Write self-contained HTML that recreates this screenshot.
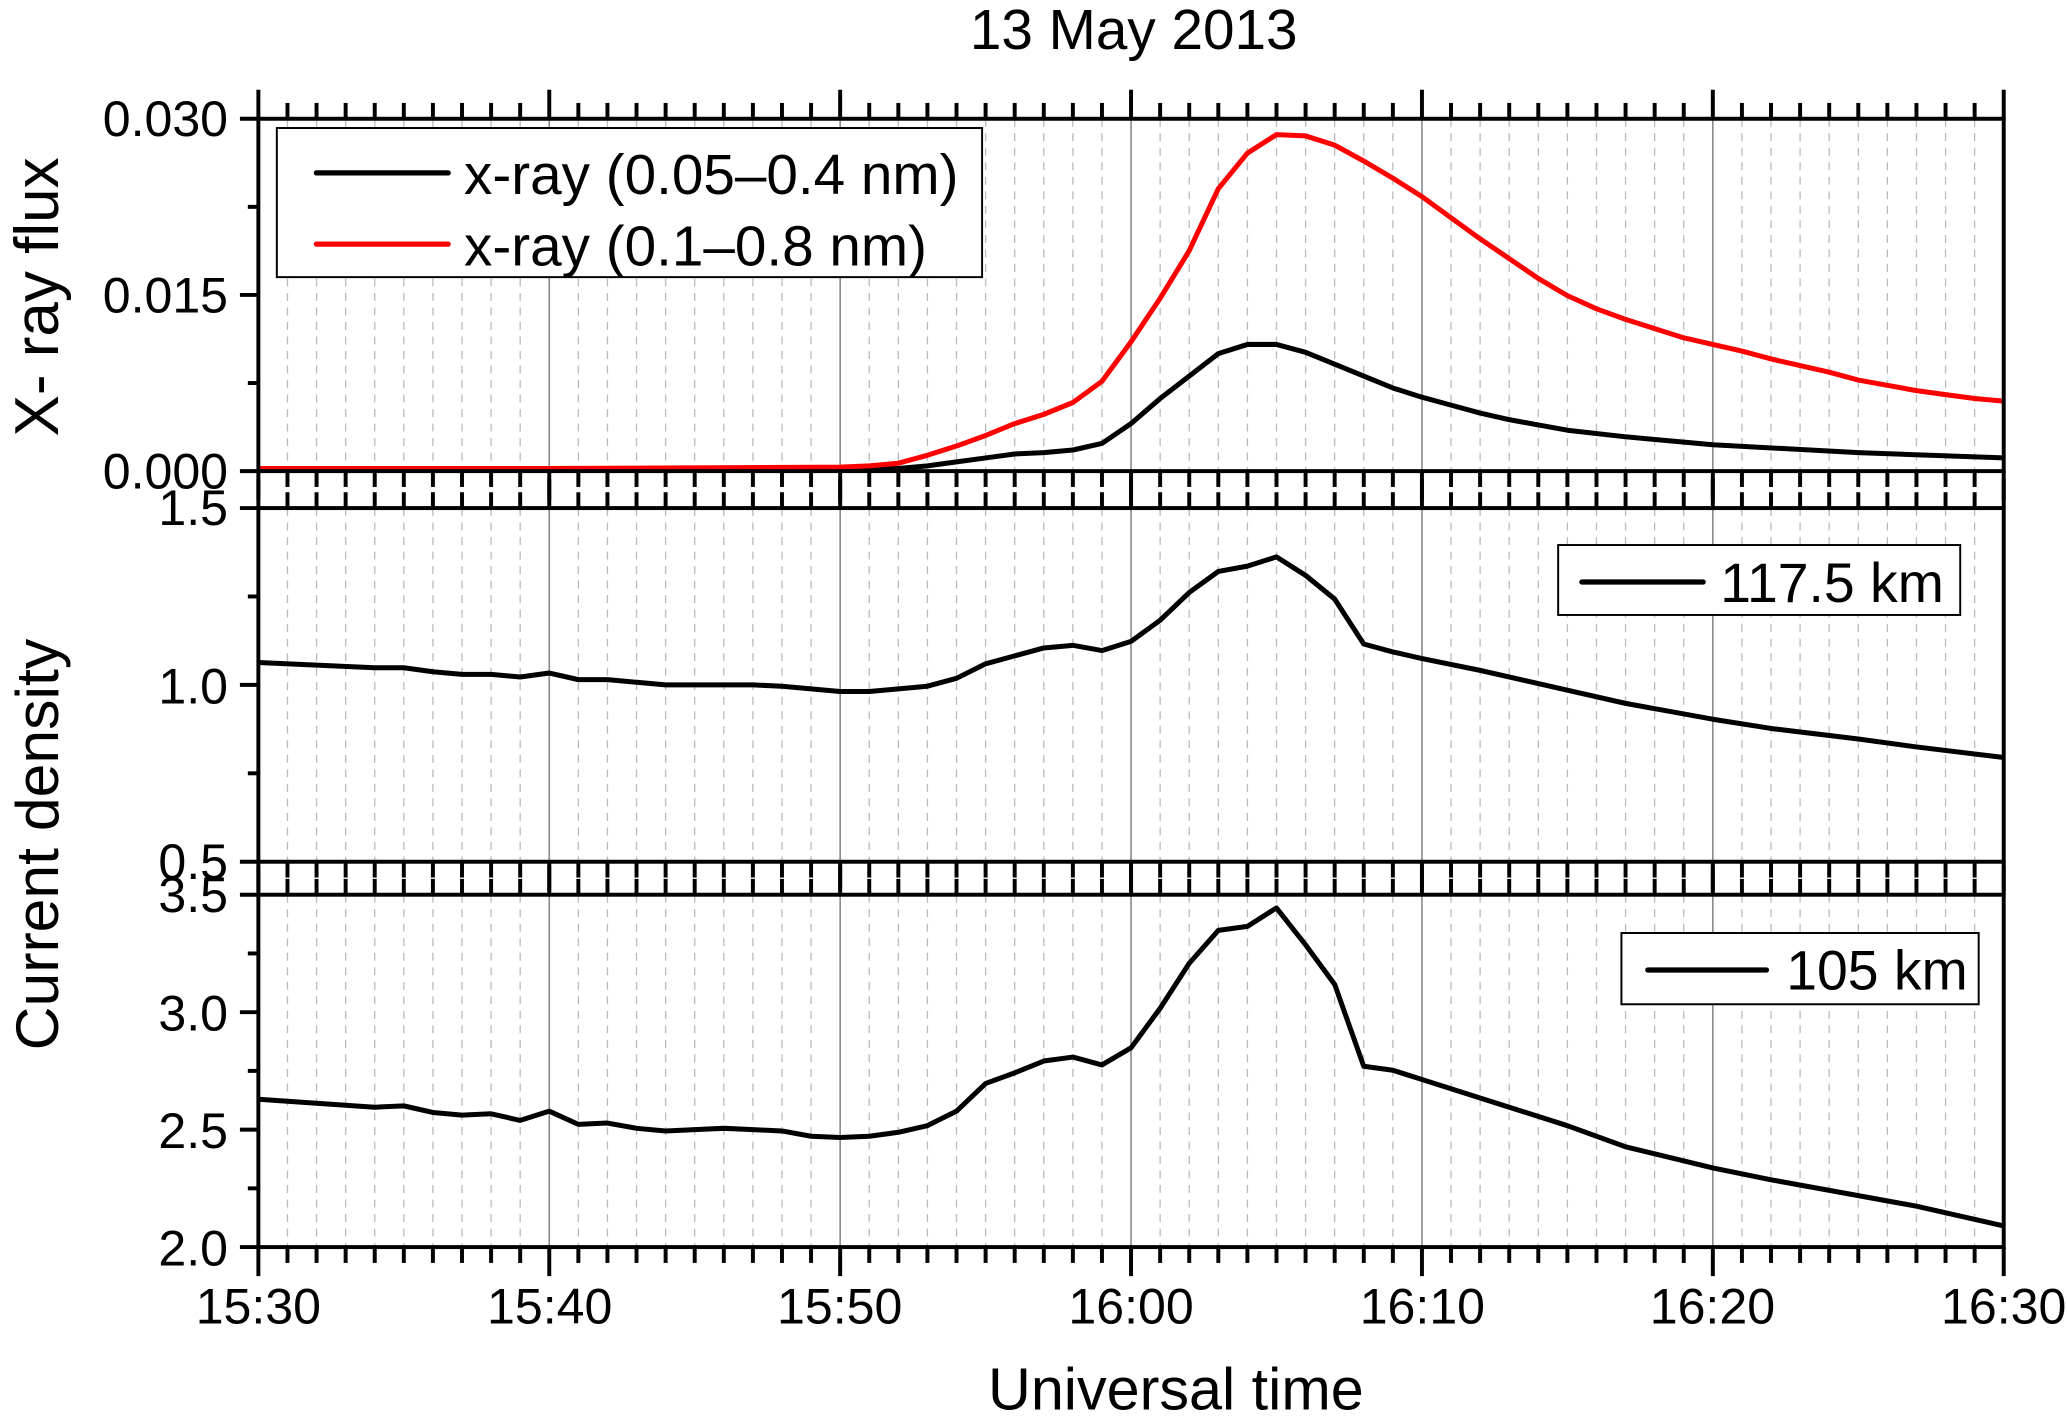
<!DOCTYPE html>
<html><head><meta charset="utf-8"><style>
html,body{margin:0;padding:0;background:#fff;}
svg{display:block;}
text{font-family:"Liberation Sans",Arial,sans-serif;fill:#000;}
</style></head><body>
<svg id="s" width="2067" height="1416" viewBox="0 0 1568 1073" preserveAspectRatio="none" xmlns="http://www.w3.org/2000/svg">
<g id="grid"></g>
<g id="data"></g>
<g id="axes"></g>
<text x="860" y="37" font-size="43" text-anchor="middle">13 May 2013</text>
<text x="892" y="1068" font-size="45" text-anchor="middle">Universal time</text>
<text transform="translate(44,225) rotate(-90)" font-size="47" text-anchor="middle">X- ray flux</text>
<text transform="translate(44,640) rotate(-90)" font-size="46" text-anchor="middle">Current density</text>
<g font-size="38" text-anchor="end">
<text x="173" y="103">0.030</text><text x="173" y="237">0.015</text><text x="173" y="370">0.000</text>
<text x="173" y="398">1.5</text><text x="173" y="533">1.0</text><text x="173" y="666">0.5</text>
<text x="173" y="691">3.5</text><text x="173" y="781">3.0</text><text x="173" y="870">2.5</text><text x="173" y="959">2.0</text>
</g>
<g font-size="38" text-anchor="middle">
<text x="196" y="1003">15:30</text><text x="417" y="1003">15:40</text><text x="637" y="1003">15:50</text>
<text x="858" y="1003">16:00</text><text x="1079" y="1003">16:10</text><text x="1299" y="1003">16:20</text><text x="1520" y="1003">16:30</text>
</g>
<g id="leg">
<rect x="210" y="97" width="535" height="113" fill="#fff" stroke="#000" stroke-width="1.5"/>
<line x1="240" y1="131" x2="340" y2="131" stroke="#000" stroke-width="4" stroke-linecap="round"/>
<line x1="240" y1="185" x2="340" y2="185" stroke="#f00" stroke-width="4" stroke-linecap="round"/>
<text x="352" y="147" font-size="43">x-ray (0.05–0.4 nm)</text>
<text x="352" y="201" font-size="43">x-ray (0.1–0.8 nm)</text>
<rect x="1182" y="413" width="305" height="53" fill="#fff" stroke="#000" stroke-width="1.5"/>
<line x1="1200" y1="441" x2="1292" y2="441" stroke="#000" stroke-width="4" stroke-linecap="round"/>
<text x="1305" y="456" font-size="42">117.5 km</text>
<rect x="1230" y="707" width="271" height="54" fill="#fff" stroke="#000" stroke-width="1.5"/>
<line x1="1250" y1="735" x2="1340" y2="735" stroke="#000" stroke-width="4" stroke-linecap="round"/>
<text x="1355" y="750" font-size="42">105 km</text>
</g>
</svg>
<script>
var NS="http://www.w3.org/2000/svg";
function el(p,t,a){var e=document.createElementNS(NS,t);for(var k in a)e.setAttribute(k,a[k]);p.appendChild(e);return e;}
var L=196,R=1520,W=R-L;
function X(m){return L+m*W/60;}
var panels=[[90,357,[223.5],[156.75,290.25]],[385,653,[519],[452,586]],[678,945,[767,856],[722.5,811.5,900.5]]];
var g=document.getElementById('grid'),a=document.getElementById('axes'),d=document.getElementById('data');
panels.forEach(function(p,i){
 var T=p[0],B=p[1];
 for(var m=1;m<60;m++){
  var x=X(m);
  if(m%10==0) el(g,'line',{x1:x,y1:T,x2:x,y2:B,stroke:'#888','stroke-width':1.2});
  else el(g,'line',{x1:x,y1:T,x2:x,y2:B,stroke:'#bbb','stroke-width':1,'stroke-dasharray':'6,5'});
 }
 el(a,'rect',{x:L,y:T,width:W,height:B-T,fill:'none',stroke:'#000','stroke-width':3});
 for(var m=0;m<=60;m++){
  var x=X(m),len=(m%10==0)?22:12;
  el(a,'line',{x1:x,y1:T,x2:x,y2:T-len,stroke:'#000','stroke-width':3});
  el(a,'line',{x1:x,y1:B,x2:x,y2:B+len,stroke:'#000','stroke-width':3});
 }
 var maj=[T,B].concat(p[2]);
 maj.forEach(function(y){el(a,'line',{x1:L,y1:y,x2:L-14,y2:y,stroke:'#000','stroke-width':3});});
 p[3].forEach(function(y){el(a,'line',{x1:L,y1:y,x2:L-8,y2:y,stroke:'#000','stroke-width':3});});
});
function poly(pts,col){
 var s=pts.map(function(q){return X(q[0]).toFixed(1)+','+q[1];}).join(' ');
 el(d,'polyline',{points:s,fill:'none',stroke:col,'stroke-width':3.8,'stroke-linejoin':'round'});
}
poly([[0,356],[20,355],[22,355],[23,353],[24,350],[25,347],[26,344],[27,343],[28,341],[29,336],[30,321],[31,302],[32,285],[33,268],[34,261],[35,261],[36,267],[37,276],[38,285],[39,294],[40,301],[41,307],[42,313],[43,318],[44,322],[45,326],[47,331],[50,337],[55,343],[60,347]],'#000');
poly([[0,355],[10,355],[20,354],[21,353],[22,351],[23,345],[24,338],[25,330],[26,321],[27,314],[28,305],[29,289],[30,259],[31,226],[32,190],[33,143],[34,116],[35,102],[36,103],[37,110],[38,122],[39,135],[40,149],[41,165],[42,181],[43,196],[44,211],[45,224],[46,234],[47,242],[48,249],[49,256],[50,261],[51,266],[52,272],[53,277],[54,282],[55,288],[56,292],[57,296],[58,299],[59,302],[60,304]],'#f00');
poly([[0,502],[2,504],[4,506],[5,506],[6,509],[7,511],[8,511],[9,513],[10,510],[11,515],[12,515],[13,517],[14,519],[15,519],[16,519],[17,519],[18,520],[19,522],[20,524],[21,524],[22,522],[23,520],[24,514],[25,503],[26,497],[27,491],[28,489],[29,493],[30,486],[31,470],[32,449],[33,433],[34,429],[35,422],[36,436],[37,454],[38,488],[39,494],[40,499],[42,508],[45,523],[47,533],[50,545],[52,552],[55,560],[57,566],[60,574]],'#000');
poly([[0,833],[2,836],[4,839],[5,838],[6,843],[7,845],[8,844],[9,849],[10,842],[11,852],[12,851],[13,855],[14,857],[15,856],[16,855],[17,856],[18,857],[19,861],[20,862],[21,861],[22,858],[23,853],[24,842],[25,821],[26,813],[27,804],[28,801],[29,807],[30,794],[31,764],[32,730],[33,705],[34,702],[35,688],[36,716],[37,746],[38,808],[39,811],[40,818],[42,832],[45,853],[47,869],[50,885],[52,894],[55,906],[57,914],[60,929]],'#000');
var s=document.getElementById('s');s.appendChild(document.getElementById('leg'));
</script>
</body></html>
